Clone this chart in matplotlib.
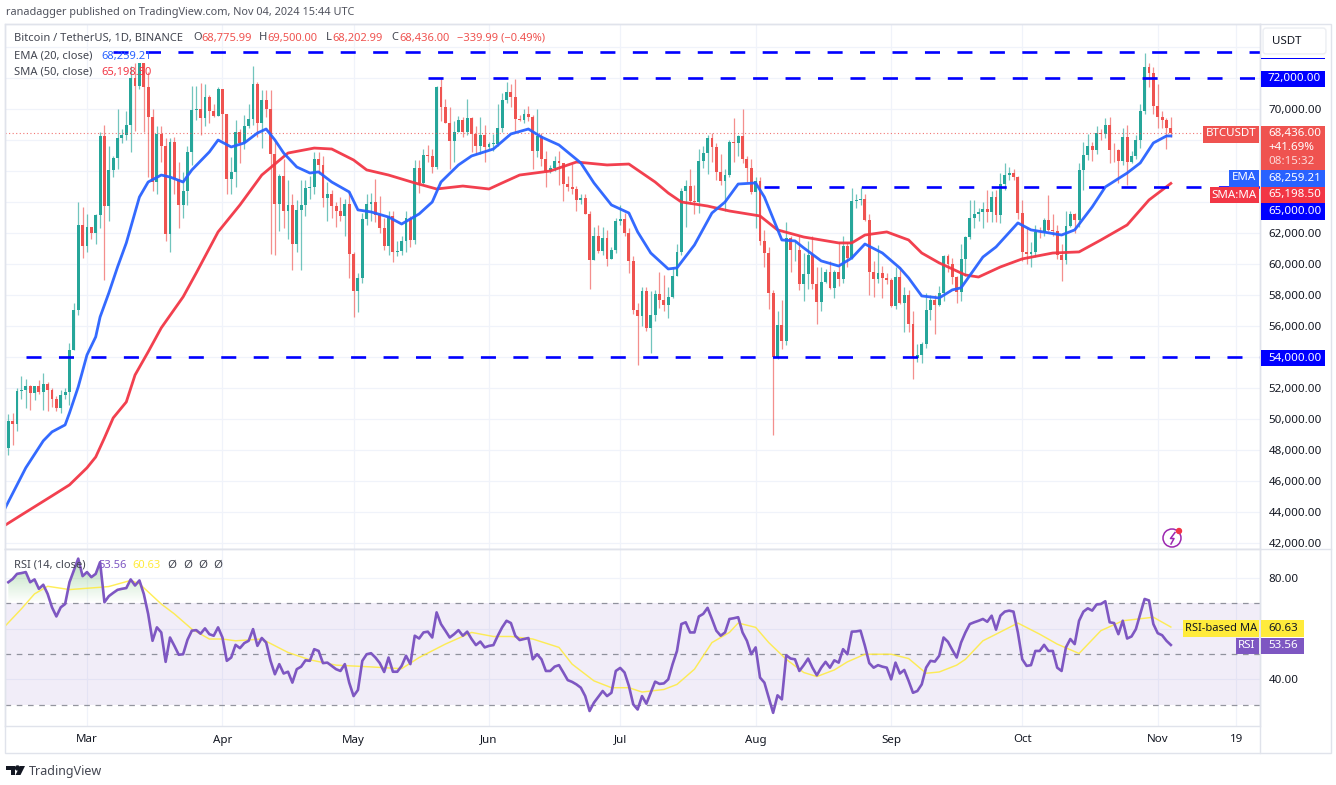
import matplotlib
matplotlib.use('Agg')
import matplotlib.pyplot as plt
from matplotlib.patches import Rectangle, Circle, Polygon, FancyBboxPatch
from matplotlib.path import Path
import numpy as np

plt.rcParams['font.family'] = ['Noto Sans', 'DejaVu Sans']

# daily candles, Feb 12 to Nov 4 2024
closes = [49900,49700,51800,51900,52100,51650,52100,51750,52250,51850,51300,50700,51550,51730,54480,57050,62500,61130,
	62390,62030,63130,68245,63724,66074,66823,68124,68313,68955,72000,71470,72950,71388,69499,65300,68390,67600,61937,67840,65500,63800,64700,67200,69950,69990,69450,70780,69850,69580,71280,
	69650,65460,65960,68500,67830,68900,69360,71600,69100,70600,70000,67100,63900,65700,63400,63800,61270,63470,63800,64900,64940,66800,66400,64280,64500,63750,63420,63110,63840,60650,
	58250,59120,62880,63890,64000,63160,62310,61190,63070,60790,60820,61480,62940,61570,66200,65230,67050,66940,66280,71450,70140,69120,67930,68530,69280,68500,69400,68360,67630,68350,67530,
	67760,67760,68800,70570,71080,70800,69350,69300,69650,69500,67320,68240,66750,66000,66190,66640,66490,65170,64960,64830,64100,64260,63200,60280,61800,60860,61700,60300,60900,62770,
	62900,62030,60200,57050,56650,58230,55850,56700,58050,57700,57340,57900,59200,60800,64700,65040,64090,63990,66660,67140,68160,67530,65930,65370,65770,67900,67810,68250,66780,66190,64620,
	65350,61500,60680,58110,54020,56040,55030,61700,60880,60920,58710,59350,60600,58740,57560,58870,59500,58440,59490,59010,61160,60380,64050,64160,64220,62830,59500,59020,59390,59120,58970,
	57300,59130,57480,57970,56160,53950,54160,54870,57040,57650,57340,58130,60500,60000,59130,58210,60310,61760,62950,63200,63350,63580,63330,64300,63140,65180,65770,65880,65600,63300,
	60800,60650,60750,62080,62060,62820,62220,62130,60580,60270,62450,63200,62850,66050,67040,67600,67370,68430,68360,69000,67360,67350,66650,68200,66600,67000,68000,69900,72700,72300,70200,
	69500,69300,68775.99,68436]
highs = [50300,50400,52000,52800,52600,52200,52000,52500,52950,52400,52000,51500,51900,52000,54900,57500,64000,63700,
	63200,62400,63200,68500,69000,67600,67000,70000,68700,69900,72800,73000,73000,73000,72400,70000,68900,68900,68100,68100,68200,66600,65950,67600,71500,71500,71700,71600,70900,70300,71400,
	71300,69700,66900,69300,68700,69600,70300,72800,71750,71200,71250,71200,67900,65800,66800,65400,64500,64100,65450,65400,65700,67200,67200,67000,65300,64800,64000,64300,64200,64700,
	60800,59400,63300,64500,64600,65500,64400,63000,63400,63400,61500,61800,63400,63100,66700,66700,67400,67700,67400,71500,71980,70650,70100,69200,69550,69500,70650,69500,68900,69500,69000,
	67850,68400,70300,71050,71750,71600,71950,69600,70000,70200,69600,70000,68450,67300,66400,66950,67300,66500,65700,66450,65050,64500,64500,63400,62400,62500,62400,62200,61100,63000,
	63800,63300,62300,60500,57500,58500,58500,58250,58300,59500,59300,58500,59800,61300,64900,65400,66100,65100,67450,67600,68350,68450,67800,67100,66100,68000,69400,68300,70000,67000,66800,
	65600,65600,62200,61100,58300,57000,57700,62700,61800,61500,61800,60700,61500,61800,59800,59800,59700,60200,59600,61400,61800,61400,64900,64500,65000,64500,63200,60200,61200,59900,59400,
	59100,59800,59800,58500,58300,57000,54850,55000,58100,58000,58000,58600,60600,60650,60400,59200,61300,61800,64100,64100,63600,64000,64750,64700,64800,65850,66500,66250,66100,65700,
	64100,62400,61450,62500,62370,62950,64450,63200,62500,61300,63400,63450,63300,66500,67900,68400,67900,68900,68700,69400,69500,67800,67450,68800,69000,67300,68300,70300,73600,73000,72700,
	71600,69900,69400,69500]
lows = [47700,48300,49200,51300,50700,50600,51200,51600,50600,50500,50800,50500,50400,51300,50900,54450,56700,60400,
	60800,61600,61300,62300,59000,62800,65600,66100,67800,68000,67200,68600,71300,68500,65600,64700,64500,66600,61500,60800,64500,62300,63000,63800,66400,69300,68300,68900,69100,69500,69550,
	68000,64500,64500,65000,66500,67400,68750,69000,68200,67500,69500,60650,60600,62100,62300,61600,59600,60800,59600,63100,64200,64500,65800,63700,62800,63000,62400,62800,61800,59100,
	56550,56900,58800,62500,62800,62700,62000,60900,60600,60150,60500,60600,60750,61100,61300,64600,65100,66600,65900,66100,69200,69100,66100,66600,68500,68200,68300,67200,67100,67100,66600,
	67400,67300,67600,68500,70400,70100,68500,69200,69100,69200,66100,66900,66300,65000,65900,66000,65100,64050,64700,64500,63400,63900,63200,58400,60250,60700,60600,59900,60300,60700,
	62500,61800,59400,56800,53500,56000,55700,54250,56300,57150,56950,56500,57800,59200,60600,62400,63900,63200,63300,66200,65800,66600,65400,65100,63400,65600,66600,67000,66500,65300,64500,
	62300,61200,59800,57100,49000,53900,54500,54800,59500,60200,58300,57600,58400,58400,56100,57000,58800,58400,57800,58600,58800,59800,60350,63600,63800,62800,58000,57850,58800,57800,58700,
	57200,57100,57400,55600,55600,52550,53700,53600,54600,56400,55500,57300,57600,59500,58700,57500,57600,59200,61600,62350,62750,62350,62700,62700,62700,62670,64800,65450,65400,62900,
	60200,60000,59800,60450,61700,61800,62100,61800,60300,58900,60000,62400,62000,62400,64800,66700,66650,67100,68000,68100,66500,66600,65250,66400,65100,66500,66800,67500,69700,71400,69700,
	68800,68800,67450,68200]
first_open = 48140

# moving averages, one reading every few bars
ema_bars = [-1,4,8,10,13,14,16,18,20,21,23,25,27,30,32,35,37,40,42,46,48,51,54,57,59,61,63,66,69,71,74,78,80,83,87,90,94,97,99,103,106,111,115,119,122,126,131,134,138,142,144,147,151,153,157,161,164,167,171,173,177,180,182,186,190,193,196,200,204,206,209,213,216,218,223,226,231,234,241,244,248,251,256,259,262,265,266]
ema_vals = [44100,46850,48590,49170,49620,50390,52070,54130,55300,56580,58130,59810,61360,64320,65290,65740,65610,65290,66070,67230,68000,67550,67810,68450,68710,68000,67160,66260,65870,65940,65290,64650,63490,63360,63030,62580,63230,64000,65290,66390,66970,67420,68390,68710,68190,67680,66520,65230,63810,63290,62070,60710,59680,59750,61230,63290,64000,65160,65230,64320,61550,61490,61040,60200,59870,60390,61290,60710,59740,59100,57940,57810,58330,58460,60450,61100,62650,62200,61870,62200,63680,64970,65870,66520,67810,68260,68259.21]
sma_bars = [-1,3,10,14,18,20,22,24,27,29,32,35,40,43,48,53,58,64,70,74,79,82,87,93,98,104,110,113,117,124,130,137,142,148,151,154,160,165,172,176,182,190,193,196,201,206,209,213,219,222,227,232,239,245,250,256,261,266]
sma_vals = [43100,43810,45040,45750,46850,47550,48780,50070,51100,52840,54330,55880,57880,59420,62070,63810,65740,67160,67480,67420,66710,66070,65740,65230,64840,65030,64840,65230,65740,66000,66580,66390,66450,65290,64580,64000,63740,63420,63100,62200,61740,61360,61360,61870,62070,61550,60710,60070,59290,59160,59810,60330,60710,60780,61550,62520,64130,65198.5]

# rsi, one value per bar
rsi_vals = [78.3,79.6,81.6,81.9,82.3,78.3,79.4,75.7,77.3,73.7,68.4,64.8,68.4,69.7,78.3,83,87.6,80.7,82.3,80.3,81.6,86.2,70.4,72.8,74.1,75.3,75.7,76,79.4,77,79,73.7,65.8,55.2,60.5,58.5,46.9,56.5,53.2,49.7,
	49.9,55.6,59.2,59.4,58,60.1,57.8,57.2,60.5,56.5,47.3,48.6,53.6,52.3,54.3,55.2,59.8,53.2,56.3,54.5,47.3,42,46,42.3,43,38.7,44,45,47.5,47.3,51.9,51.2,46.4,46.6,45.3,44,43.3,46,38.7,33.4,
	35.8,47.3,49.9,50.3,48.6,46.4,42.9,48.6,43,43,45.3,49.3,46,57.2,56.1,58.5,58.8,56.5,66.4,61.8,59.2,56.5,57.8,59.4,57.2,58.8,55.9,53.5,54.9,52.6,53.2,53.5,57.2,60.5,63.1,62.2,57.2,55.5,55.9,56.3,
	47.9,49.9,47.9,43.3,43.3,45,45.6,42.7,39.7,39,38,36.7,33.4,27.5,30.8,33.1,35.4,33.4,34.7,43.3,44.5,42.7,37.4,30.1,28.1,33.4,30.4,34.7,39.1,38.2,38.4,40,46,51.2,61.8,62.5,58.5,58.5,64.8,65.8,
	68.2,63.8,59.2,57.2,58.5,63.8,64.1,64.5,58.5,55.2,49.9,52.6,40.7,38.7,32.7,26.8,33.7,32.1,49.5,48.2,47.9,43.3,45.6,48.2,44.6,41.6,44.6,46.9,44.6,47.5,46.6,51.9,49.9,58.8,58.9,59.2,53.2,46.4,44.6,45.6,
	45,44.6,40,46.6,42.3,43.7,39.4,34.7,35.4,38,44.6,47.3,47,49.3,56.5,54.8,51.6,48.6,54.5,58.5,61.8,62.5,63.1,63.8,62.7,65.1,59.6,65.1,66.7,67.1,66.7,58.5,47.9,45.3,45.6,51.2,51.2,53.6,51.2,51.2,
	44.6,43.3,52.6,55.9,53.9,63.1,66.7,68,67.1,69.5,69.7,70.8,62.5,62.2,57.8,63.1,56.1,56.9,59.8,65.8,71.7,71.1,61.8,58.2,57.4,55.2,53.56]
rsi_ma_bars = [-1,3,6,9,14,21,23,28,30,35,38,42,46,49,52,58,64,69,75,83,90,94,100,106,111,115,120,126,129,134,138,142,145,150,153,157,161,165,167,171,174,178,182,185,189,192,196,202,206,210,213,217,219,223,226,231,236,240,245,250,255,262,266]
rsi_ma_vals = [60.5,67.8,73.7,76.7,75.4,76.3,76.6,79,77.7,69.7,65.8,59.8,55.9,55.9,55.2,55.9,50.6,47.7,45.6,44.9,44.2,48.6,53.9,58.5,56.9,56.9,55.9,52.6,46,39.4,36.7,36.7,35,36,38,44,54.5,58.5,62.2,60.5,54.5,47.9,42.7,41.1,43.7,46.9,49.9,49.9,48.2,42.4,42.9,45.6,47.9,55.2,57.8,62.2,57.8,53.9,50.2,59.2,63.1,64.5,60.63]

levels = [73700, 72000, 65000, 54000]
level_starts = [24, 96, 173, 4]
price_ticks = list(range(42000, 76000, 2000))
# these sit under the coloured price tags, so they carry no plain label
tagged_ticks = [54000, 64000, 66000, 68000, 72000, 74000]
month_bars = [18, 49, 79, 110, 140, 171, 202, 232, 263, 281]
month_names = ['Mar', 'Apr', 'May', 'Jun', 'Jul', 'Aug', 'Sep', 'Oct', 'Nov', '19']

GREEN = '#26a69a'
RED = '#ef5350'
BLUE = '#0000ff'
EMA_BLUE = '#2962ff'
SMA_RED = '#f23645'
PURPLE = '#7e57c2'
YELLOW = '#ffeb3b'
GRID = '#f0f3fa'
EDGE = '#e0e3eb'
TEXT = '#131722'
W, H = 1336, 785

fig = plt.figure(figsize=(W/100, H/100), dpi=100, facecolor='white')

def pane(left, top, right, bottom):
	return fig.add_axes([left/W, 1-bottom/H, (right-left)/W, (bottom-top)/H])

def label(x, y, s, color=TEXT, size=8.3, ha='left', weight='normal'):
	return fig.text(x/W, 1-y/H, s, color=color, fontsize=size, ha=ha, va='center', weight=weight, zorder=8)

def box(x0, y0, x1, y1, color):
	fig.add_artist(Rectangle((x0/W, 1-y1/H), (x1-x0)/W, (y1-y0)/H, transform=fig.transFigure, color=color, lw=0, zorder=7))

ax = pane(5, 24, 1260, 549)
rs = pane(5, 549, 1260, 726)
xlim = (-0.755, 286.4)
for a in [ax, rs]:
	a.set_xlim(xlim)
	a.set_xticks(month_bars)
	a.yaxis.tick_right()
	a.grid(True, color=GRID, lw=0.9)
	a.set_axisbelow(True)
	a.tick_params(length=0, labelsize=8.3, labelcolor=TEXT, pad=6)
	a.tick_params(axis='x', labelbottom=False)
	for s in a.spines.values():
		s.set_color(EDGE)
		s.set_linewidth(1)

# candles
x = np.arange(len(closes))
closes = np.array(closes, dtype=float)
opens = np.r_[first_open, closes[:-1]]
cols = np.where(closes >= opens, GREEN, RED)
ax.vlines(x, lows, highs, colors=cols, lw=0.9, alpha=0.65, zorder=2)
ax.bar(x, np.maximum(np.abs(closes-opens), 25), bottom=np.minimum(opens, closes), width=0.66, color=cols, lw=0, zorder=3)

ax.plot(sma_bars, sma_vals, color=SMA_RED, lw=2, alpha=0.95, zorder=4, solid_joinstyle='round')
ax.plot(ema_bars, ema_vals, color=EMA_BLUE, lw=2, alpha=0.95, zorder=5, solid_joinstyle='round')
ax.axhline(closes[-1], color=RED, lw=0.8, ls=(0, (1, 2.2)), alpha=0.8, zorder=4)

for lev, start in zip(levels, level_starts):
	ax.plot([start, xlim[1]], [lev, lev], color=BLUE, lw=1.9, ls=(0, (5.7, 6.6)), dash_capstyle='butt', zorder=6)

ax.set_xlim(xlim)
ax.set_ylim(41613, 75484)
ax.set_yticks(price_ticks)
ax.set_yticklabels(['' if p in tagged_ticks else '{:,.2f}'.format(p) for p in price_ticks])

# rsi pane
rs.axhspan(30, 70, color=PURPLE, alpha=0.1, lw=0, zorder=1)
for lev in [70, 50, 30]:
	rs.axhline(lev, color='#787b86', lw=0.9, ls=(0, (4.5, 4.5)), alpha=0.8, zorder=2)
rsi_x = np.arange(len(rsi_vals))
rsi_vals = np.array(rsi_vals)

def gradient(base, far, rgb, where):
	poly = rs.fill_between(rsi_x, base, rsi_vals, where=where, interpolate=True, alpha=0)
	img = np.zeros((64, 2, 4))
	img[..., :3] = rgb
	img[..., 3] = np.linspace(0.42, 0, 64)[:, None]
	im = rs.imshow(img, extent=(xlim[0], xlim[1], min(base, far), max(base, far)), aspect='auto',
		origin='upper' if far > base else 'lower', zorder=1.5)
	im.set_clip_path(Path.make_compound_path(*poly.get_paths()), transform=rs.transData)

gradient(70, 88, (0.3, 0.69, 0.31), rsi_vals > 70)
gradient(30, 24, (0.94, 0.33, 0.31), rsi_vals < 30)

rs.plot(rsi_ma_bars, rsi_ma_vals, color=YELLOW, lw=1.05, alpha=0.85, zorder=3)
rs.plot(rsi_x, rsi_vals, color=PURPLE, lw=1.9, zorder=4, solid_joinstyle='round')
rs.set_xlim(xlim)
rs.set_ylim(21.6, 91.4)
rs.set_yticks([40, 60, 80])
rs.set_yticklabels(['40.00', '', '80.00'])

# date strip under the panes
for b, name in zip(month_bars, month_names):
	label(8.3+4.37*b, 740, name, ha='center')

# outer frame
fig.add_artist(Rectangle((5/W, 1-753/H), 1326/W, 729/H, transform=fig.transFigure, fill=False, ec=EDGE, lw=1, zorder=2))
fig.add_artist(plt.Line2D([1260/W, 1260/W], [1-753/H, 1-24/H], color=EDGE, lw=1, transform=fig.transFigure, zorder=2))
fig.add_artist(plt.Line2D([5/W, 1331/W], [1-549/H, 1-549/H], color=EDGE, lw=1, transform=fig.transFigure, zorder=2))

# header and legends
label(6, 12, 'ranadagger published on TradingView.com, Nov 04, 2024 15:44 UTC', color='#50535e', size=7.85)
label(14, 38, 'Bitcoin / TetherUS, 1D, BINANCE', color='#434651', size=8)
for px, key, val in [(193, 'O', '68,775.99'), (259, 'H', '69,500.00'), (326, 'L', '68,202.99'), (391, 'C', '68,436.00')]:
	label(px, 38, key, color='#434651', size=8)
	label(px+(6 if key == 'L' else 8), 38, val, color=RED, size=8)
label(457, 38, '\u2212339.99 (\u22120.49%)', color=RED, size=8)
label(14, 56, 'EMA (20, close)', color='#434651', size=8)
label(101, 56, '68,259.21', color=EMA_BLUE, size=8)
label(14, 72.5, 'SMA (50, close)', color='#434651', size=8)
label(101, 72.5, '65,198.50', color=SMA_RED, size=8)
label(14, 565, 'RSI (14, close)', color='#434651', size=8)
label(98, 565, '53.56', color=PURPLE, size=8)
label(132, 565, '60.63', color=YELLOW, size=8)
for px in [172, 188, 203, 218]:
	label(px, 565, '\u00d8', color='#434651', ha='center')

# price scale boxes
box(1261, 57.7, 1325, 59.4, BLUE)
fig.add_artist(FancyBboxPatch((1266/W, 1-51/H), 57/W, 20/H, boxstyle='round,pad=0.0022', transform=fig.transFigure,
	fc='white', ec='#eceef3', lw=1, zorder=7, mutation_aspect=W/H))
label(1272, 41, 'USDT')
for y0, y1, txt in [(71, 87, '72,000.00'), (203, 220, '65,000.00'), (350, 366, '54,000.00')]:
	box(1261, y0, 1325, y1, BLUE)
	label(1268, (y0+y1)/2, txt, color='white')
box(1203, 126, 1259, 143, RED)
label(1231, 134, 'BTCUSDT', color='white', ha='center')
box(1261, 126, 1325, 170, RED)
label(1268, 133.5, '68,436.00', color='white')
label(1268, 147, '+41.69%', color='white')
label(1268, 161, '08:15:32', color='#fcdad9')
box(1229, 170, 1259, 186.5, EMA_BLUE)
label(1244, 178, 'EMA', color='white', ha='center')
box(1261, 170, 1325, 186.5, EMA_BLUE)
label(1268, 178, '68,259.21', color='white')
box(1210, 187, 1259, 203, SMA_RED)
label(1234.5, 195, 'SMA:MA', color='white', ha='center')
box(1261, 187, 1325, 203, SMA_RED)
label(1268, 195, '65,198.50', color='white')

# rsi scale boxes
box(1183, 620, 1259, 637, YELLOW)
label(1221, 628.5, 'RSI-based MA', ha='center', size=8)
box(1261, 620, 1303.5, 637, YELLOW)
label(1268, 628.5, '60.63')
box(1235.5, 637.5, 1259, 654, PURPLE)
label(1247, 646, 'RSI', color='white', ha='center')
box(1261, 637.5, 1303.5, 654, PURPLE)
label(1268, 646, '53.56', color='white')

# lightning icon
tr = fig.transFigure
fig.add_artist(plt.Line2D(np.array([1175, 1170.5, 1174, 1171])/W, 1-np.array([532.5, 538.5, 538.5, 544])/H, color='#9c27b0', lw=1.1, transform=tr, zorder=8))
t = fig.dpi_scale_trans
fig.add_artist(Circle((1172/100, (H-538)/100), 0.09, transform=t, fill=False, ec='#9c27b0', lw=1.1, zorder=8))
fig.add_artist(Circle((1179/100, (H-531)/100), 0.025, transform=t, color=SMA_RED, zorder=9))

# logo
for pts in [[(6, 766), (15, 766), (15, 775), (10.5, 775), (10.5, 769.5), (6, 769.5)],
		[(20, 766), (25, 766), (20.5, 775), (15.5, 775)]]:
	fig.add_artist(Polygon([(p/W, 1-q/H) for p, q in pts], transform=tr, color=TEXT, lw=0, zorder=8))
fig.add_artist(Circle((17.5/100, (H-768)/100), 0.02, transform=t, color=TEXT, zorder=8))
label(29, 771, 'TradingView', color='#434651', size=9)

fig.savefig('out.png', dpi=100)
